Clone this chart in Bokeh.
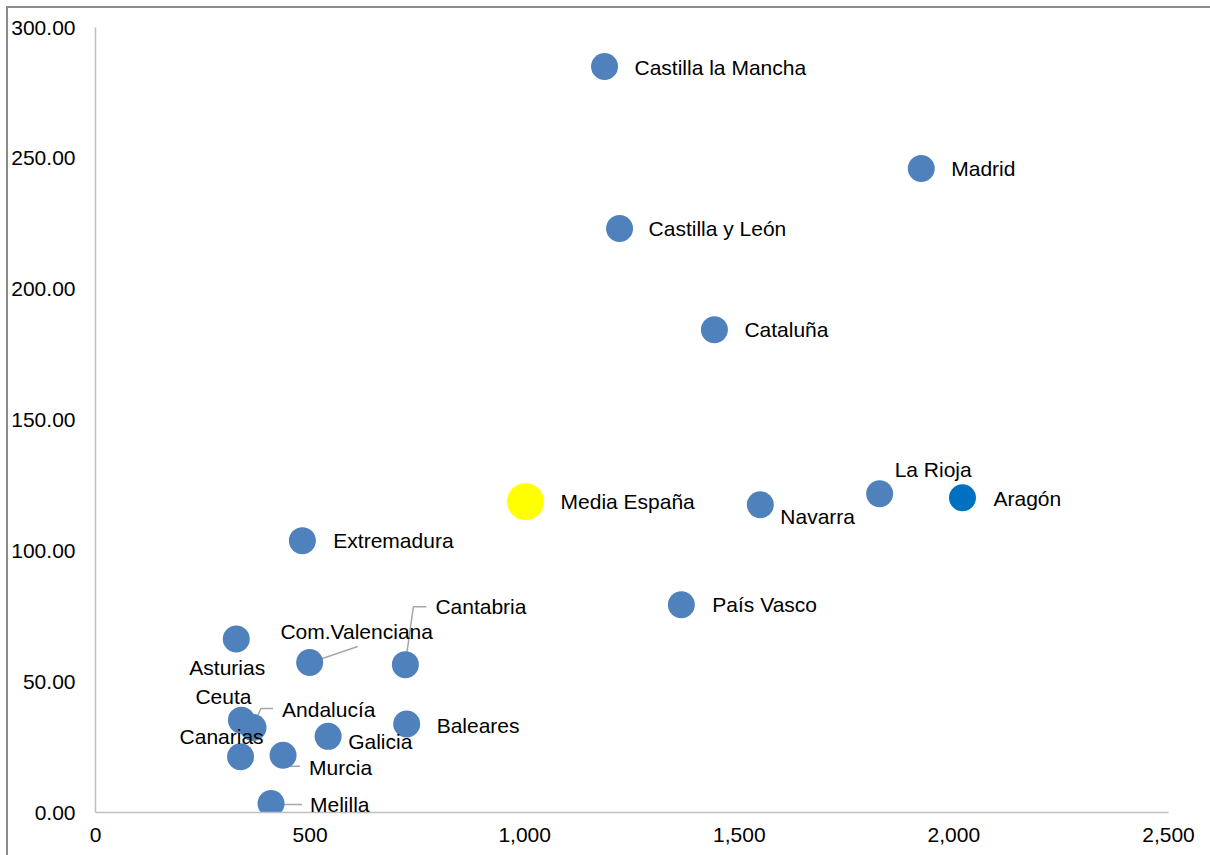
from bokeh.plotting import figure
from bokeh.models import (Range1d, FixedTicker, NumeralTickFormatter, ColumnDataSource,
                          LabelSet)
from bokeh.core.properties import value
from bokeh.embed import file_html
from bokeh.resources import INLINE

# ---- data ----
regions = ["Castilla la Mancha", "Madrid", "Castilla y León", "Cataluña", "La Rioja",
           "Aragón", "Navarra", "Media España", "Extremadura", "País Vasco", "Asturias",
           "Com.Valenciana", "Cantabria", "Ceuta", "Andalucía", "Canarias", "Galicia",
           "Baleares", "Murcia", "Melilla"]
x_vals = [1186, 1924, 1221, 1442, 1827, 2020, 1549, 1002, 482, 1365, 328,
          499, 722, 340, 367, 338, 542, 725, 437, 409]
y_vals = [285.1, 246.1, 223.2, 184.5, 121.8, 120.3, 117.6, 118.8, 103.9, 79.4, 66.3,
          57.3, 56.5, 35.3, 32.5, 21.3, 29.1, 33.8, 21.9, 3.4]
y_ticks = [0, 50, 100, 150, 200, 250, 300]
x_ticks = [0, 500, 1000, 1500, 2000, 2500]

# ---- styling (screen-pixel offsets of labels relative to points) ----
BLUE = "#4F81BD"
colors = [BLUE] * len(regions)
colors[regions.index("Aragón")] = "#0070C0"
colors[regions.index("Media España")] = "#FFFF00"
sizes = [27] * len(regions)
sizes[regions.index("Media España")] = 37

label_style = {
    "Castilla la Mancha": ("left", 30, 1), "Madrid": ("left", 30, 0),
    "Castilla y León": ("left", 29, 0), "Cataluña": ("left", 30, 0),
    "La Rioja": ("left", 15, -24), "Aragón": ("left", 31, 1),
    "Navarra": ("left", 20, 12), "Media España": ("left", 35, 0),
    "Extremadura": ("left", 31, 0), "País Vasco": ("left", 31, 0),
    "Asturias": ("center", -9, 28), "Com.Valenciana": ("center", 47, -31),
    "Cantabria": ("left", 30, -58), "Ceuta": ("center", -18, -24),
    "Andalucía": ("left", 29, -18), "Canarias": ("center", -19, -20),
    "Galicia": ("left", 20, 5), "Baleares": ("left", 30, 1),
    "Murcia": ("left", 26, 12), "Melilla": ("left", 39, 1),
}
leaders = {
    "Com.Valenciana": [(1, 0), (48, -16)],
    "Cantabria": [(0, -1), (8, -58), (21, -58)],
    "Andalucía": [(-1, 0), (8, -19), (20, -19)],
    "Murcia": [(0, 1), (6, 11), (17, 11)],
    "Melilla": [(1, 1), (31, 1)],
}

W, H = 1202, 847
MB_L, MB_R, MB_T, MB_B = 87, 42, 19, 43
X0, X1, Y0, Y1 = 0, 2500, 0, 300
sx = (W - MB_L - MB_R) / (X1 - X0)
sy = (H - MB_T - MB_B) / (Y1 - Y0)

p = figure(width=W, height=H, output_backend="svg", toolbar_location=None,
           x_range=Range1d(X0, X1), y_range=Range1d(Y0, Y1),
           min_border_left=MB_L, min_border_right=MB_R,
           min_border_top=MB_T, min_border_bottom=MB_B)
p.styles = {"outline": "2px solid #8c8c8c", "margin-left": "8px", "margin-top": "8px"}
p.outline_line_color = None
p.xgrid.visible = False
p.ygrid.visible = False

FONT = "Liberation Sans"
for ax in (p.xaxis[0], p.yaxis[0]):
    ax.axis_line_color = "#BFBFBF"
    ax.axis_line_width = 1.5
    ax.major_tick_line_color = None
    ax.minor_tick_line_color = None
    ax.major_tick_out = 0
    ax.major_tick_in = 0
    ax.major_label_text_font = FONT
    ax.major_label_text_font_size = "21px"
    ax.major_label_text_color = "#000000"
p.xaxis[0].ticker = FixedTicker(ticks=x_ticks)
p.yaxis[0].ticker = FixedTicker(ticks=y_ticks)
p.xaxis[0].formatter = NumeralTickFormatter(format="0,0")
p.yaxis[0].formatter = NumeralTickFormatter(format="0.00")
p.xaxis[0].major_label_standoff = 15
p.yaxis[0].major_label_standoff = 20

# leader lines
lx, ly = [], []
for name, pts in leaders.items():
    i = regions.index(name)
    lx.append([x_vals[i] + dx / sx for dx, dy in pts])
    ly.append([y_vals[i] - dy / sy for dx, dy in pts])
p.multi_line(lx, ly, line_color="#A6A6A6", line_width=1.5)

src = ColumnDataSource(dict(x=x_vals, y=y_vals, c=colors, s=sizes))
p.scatter("x", "y", size="s", fill_color="c", line_color=None, source=src)

for align in ("left", "center"):
    tx, ty, tt = [], [], []
    for i, name in enumerate(regions):
        a, dx, dy = label_style[name]
        if a != align:
            continue
        tx.append(x_vals[i] + dx / sx)
        ty.append(y_vals[i] - dy / sy)
        tt.append(name)
    lsrc = ColumnDataSource(dict(x=tx, y=ty, t=tt))
    p.add_layout(LabelSet(x="x", y="y", text="t", source=lsrc, text_align=align,
                          text_baseline="middle", text_font=value(FONT),
                          text_font_size="21px", text_color="#000000"))

open("out.html", "w").write(file_html(p, INLINE))
